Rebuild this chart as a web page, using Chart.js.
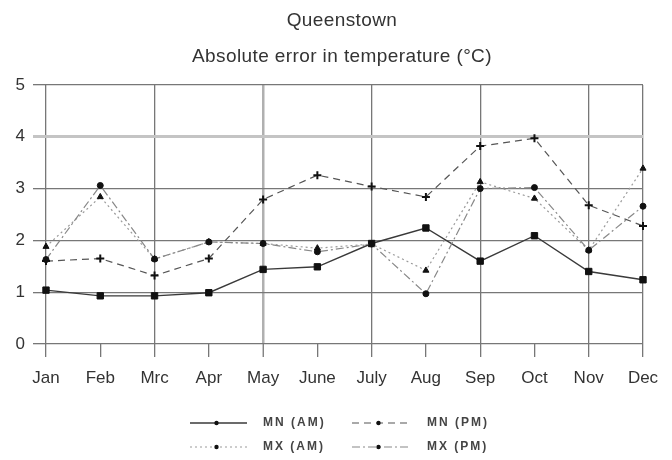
<!DOCTYPE html>
<html>
<head>
<meta charset="utf-8">
<script src="https://cdn.jsdelivr.net/npm/chart.js@4/dist/chart.umd.min.js"></script>
<style>
  html, body { margin: 0; padding: 0; background: #fff; }
  #wrap { position: relative; width: 672px; height: 460px; }
  canvas { position: absolute; left: 0; top: 0; }
  .title { position: absolute; left: 0; width: 684px; text-align: center; font-family: "Liberation Sans", Arial, sans-serif; color: #333; letter-spacing: 0.4px; }
  .leg { position: absolute; font-family: "Liberation Sans", Arial, sans-serif; font-weight: bold; font-size: 12px; letter-spacing: 2px; color: #444; }
  svg { position: absolute; }
</style>
</head>
<body>
<div id="wrap">
  <canvas id="c" width="672" height="460"></canvas>
  <div class="title" style="top:9px;font-size:19px;">Queenstown</div>
  <div class="title" style="top:45px;font-size:19px;">Absolute error in temperature (°C)</div>
  <div id="legend"></div>
</div>
<script>
const categories = ["Jan","Feb","Mrc","Apr","May","June","July","Aug","Sep","Oct","Nov","Dec"];
const yTicks = [0,1,2,3,4,5];
const seriesNames = ["MN (AM)","MN (PM)","MX (AM)","MX (PM)"];
const mnAM = [1.04,0.93,0.93,0.99,1.44,1.49,1.94,2.24,1.60,2.09,1.40,1.24];
const mnPM = [1.60,1.65,1.32,1.65,2.79,3.26,3.04,2.84,3.82,3.97,2.68,2.28];
const mxAM = [1.88,2.84,1.64,1.97,1.94,1.85,1.93,1.42,3.13,2.81,1.81,3.39];
const mxPM = [1.63,3.06,1.64,1.97,1.94,1.78,1.93,0.97,3.00,3.02,1.81,2.66];

const styles = [
  {color:'#3a3a3a', dash:[], width:1.4, point:'rect', r:4.5, pw:1},
  {color:'#555', dash:[7,5], width:1.2, point:'cross', r:4, pw:2},
  {color:'#9a9a9a', dash:[2,3], width:1.2, point:'triangle', r:3.5, pw:1},
  {color:'#888', dash:[8,3,2,3], width:1.2, point:'circle', r:3, pw:1}
];
const allData = [mnAM, mnPM, mxAM, mxPM];

const datasets = allData.map((d,i)=>({
  label: seriesNames[i],
  data: d,
  borderColor: styles[i].color,
  borderDash: styles[i].dash,
  borderWidth: styles[i].width,
  pointStyle: styles[i].point,
  pointRadius: styles[i].r,
  pointBorderWidth: styles[i].pw,
  pointBackgroundColor: '#111',
  pointBorderColor: '#111',
  tension: 0,
  fill: false
})).reverse();

new Chart(document.getElementById('c'), {
  type: 'line',
  data: { labels: categories, datasets },
  options: {
    responsive: false,
    animation: false,
    layout: { padding: { left: 0, right: 29, top: 85, bottom: 0 } },
    plugins: { legend: { display: false }, title: { display: false }, tooltip: { enabled: false } },
    scales: {
      x: {
        type: 'category',
        offset: false,
        border: { display: false },
        grid: {
          tickLength: 13,
          tickColor: '#777',
          tickWidth: 1.3,
          color: c => (c.index === 4 ? '#b0b0b0' : ((c.index % 2 === 0 || c.index === 11) ? '#777' : 'rgba(0,0,0,0)')),
          lineWidth: c => (c.index === 4 ? 2.5 : 1.3)
        },
        ticks: { color: '#333', font: { family: '"Liberation Sans", Arial, sans-serif', size: 17 }, padding: 11, maxRotation: 0, autoSkip: false },
        afterFit: s => { s.height = 116; }
      },
      y: {
        min: 0, max: 5,
        border: { display: false },
        afterBuildTicks: s => { s.ticks = yTicks.map(v => ({ value: v })); },
        grid: {
          tickLength: 13,
          color: c => (c.tick && c.tick.value === 4 ? '#c4c4c4' : '#777'),
          lineWidth: c => (c.tick && c.tick.value === 4 ? 3 : 1.3)
        },
        ticks: { color: '#333', font: { family: '"Liberation Sans", Arial, sans-serif', size: 17 }, padding: 8 },
        afterFit: s => { s.width = 46; }
      }
    }
  }
});

// HTML legend
const legend = document.getElementById('legend');
const legPos = [
  {lx:190, tx:263, y:423},
  {lx:352, tx:427, y:423},
  {lx:190, tx:263, y:447},
  {lx:352, tx:427, y:447}
];
seriesNames.forEach((name,i)=>{
  const p = legPos[i], st = styles[i];
  const w = 57;
  const svg = document.createElementNS('http://www.w3.org/2000/svg','svg');
  svg.setAttribute('width', w); svg.setAttribute('height', 10);
  svg.style.left = p.lx + 'px'; svg.style.top = (p.y - 5) + 'px';
  const ln = document.createElementNS('http://www.w3.org/2000/svg','line');
  ln.setAttribute('x1',0); ln.setAttribute('x2',w); ln.setAttribute('y1',5); ln.setAttribute('y2',5);
  ln.setAttribute('stroke', st.color); ln.setAttribute('stroke-width', st.width);
  if (st.dash.length) ln.setAttribute('stroke-dasharray', st.dash.join(','));
  svg.appendChild(ln);
  const mk = document.createElementNS('http://www.w3.org/2000/svg','circle');
  mk.setAttribute('cx', w/2 - 2); mk.setAttribute('cy', 5); mk.setAttribute('r', 2.2); mk.setAttribute('fill', '#111');
  svg.appendChild(mk);
  legend.appendChild(svg);
  const t = document.createElement('div');
  t.className = 'leg';
  t.textContent = name;
  t.style.left = p.tx + 'px'; t.style.top = (p.y - 8) + 'px';
  legend.appendChild(t);
});
</script>
</body>
</html>
